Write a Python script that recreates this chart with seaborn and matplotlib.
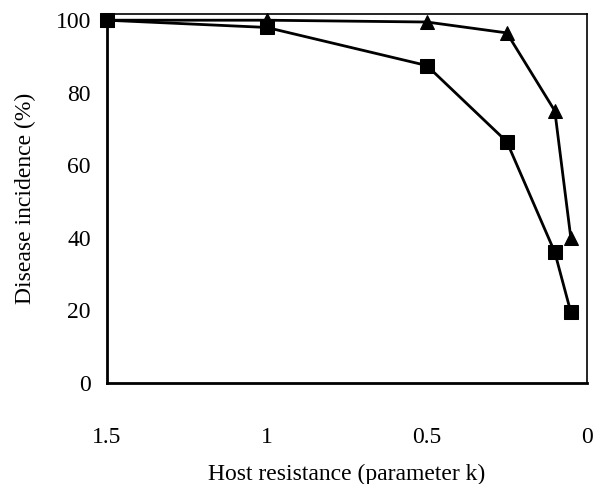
import matplotlib
matplotlib.use("Agg")
import matplotlib.pyplot as plt
import seaborn as sns
import pandas as pd

k_values = [1.5, 1.0, 0.5, 0.25, 0.1, 0.05]
squares = [100, 98, 87.5, 66.5, 36, 19.5]
triangles = [100, 100, 99.5, 96.5, 75, 40]
x_ticks = [1.5, 1, 0.5, 0]
x_tick_labels = ["1.5", "1", "0.5", "0"]
y_ticks = [0, 20, 40, 60, 80, 100]

sns.set_theme(style="white")
plt.rcParams['font.family'] = ['Liberation Serif', 'DejaVu Serif']

df = pd.DataFrame({
    "k": k_values * 2,
    "incidence": squares + triangles,
    "series": ["square"] * len(k_values) + ["triangle"] * len(k_values),
})

fig = plt.figure(figsize=(6.0, 4.84), dpi=100)
ax = fig.add_axes([0.178, 0.209, 0.800, 0.762])

sns.lineplot(data=df, x="k", y="incidence", hue="series", style="series",
             markers={"square": "s", "triangle": "^"}, dashes=False,
             palette={"square": "black", "triangle": "black"},
             markersize=10, linewidth=2.0, markeredgecolor="black",
             legend=False, ax=ax, sort=False, clip_on=False)

ax.set_xlim(1.5, 0)
ax.set_ylim(0, 101.7)
ax.set_xticks(x_ticks)
ax.set_xticklabels(x_tick_labels)
ax.set_yticks(y_ticks)
ax.tick_params(axis="both", direction="inout", length=7, width=1.2, colors="black",
               labelsize=17)
ax.tick_params(axis="x", pad=28)
ax.tick_params(axis="y", pad=8)
for side in ["left", "bottom"]:
    ax.spines[side].set_linewidth(2.0)
for side in ["top", "right"]:
    ax.spines[side].set_linewidth(1.2)
for s in ax.spines.values():
    s.set_color("black")
    s.set_visible(True)

ax.set_xlabel("Host resistance (parameter k)", fontsize=17, labelpad=12, color="black")
ax.set_ylabel("Disease incidence (%)", fontsize=17, labelpad=14, color="black")

fig.savefig("out.png", dpi=100)
